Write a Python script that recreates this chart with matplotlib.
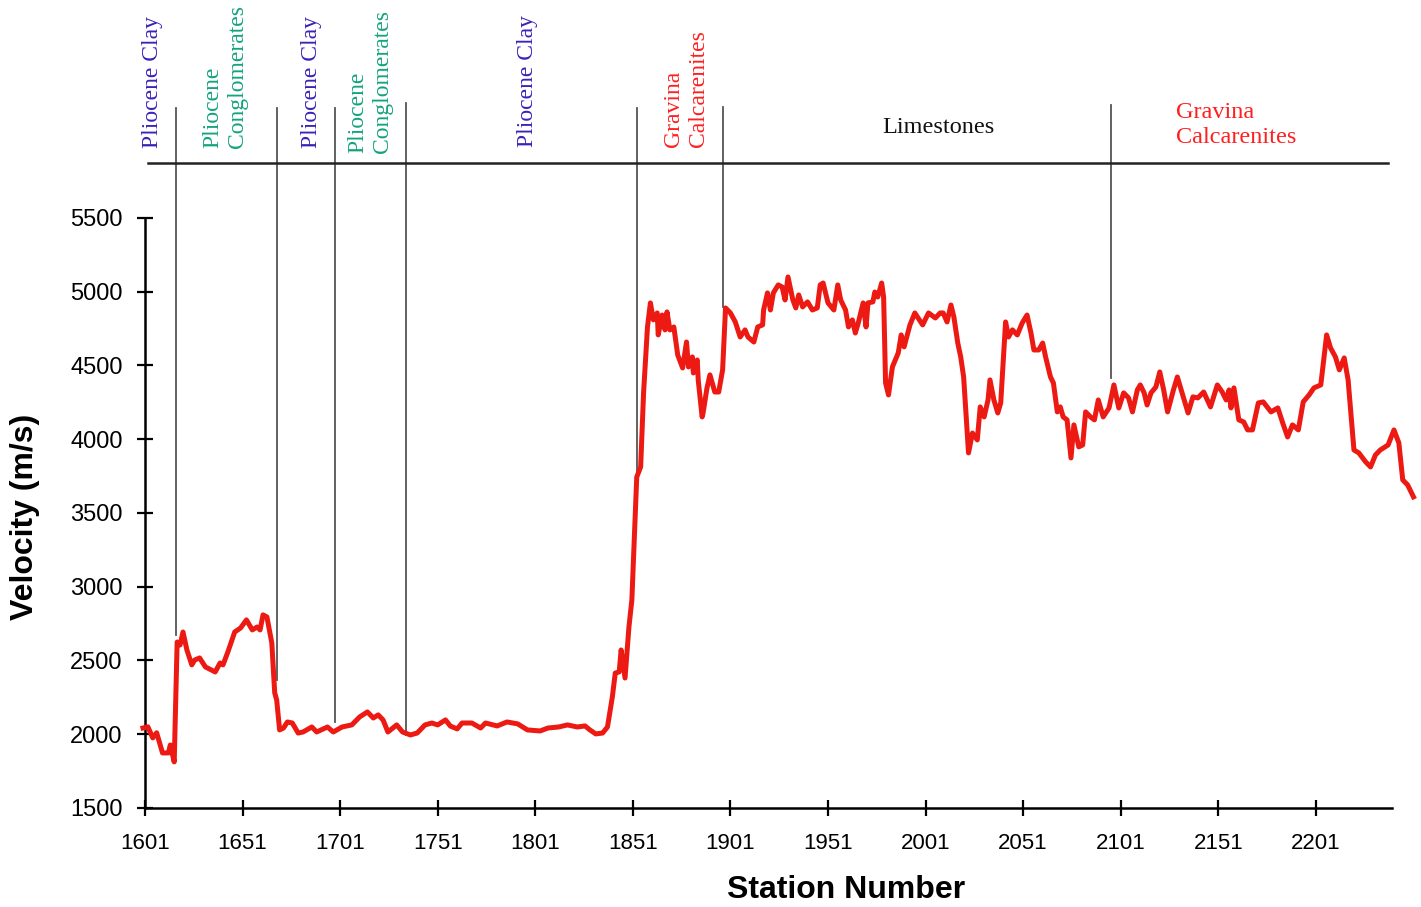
import matplotlib
matplotlib.use('Agg')
import matplotlib.pyplot as plt

# velocity profile
station = [1600, 1602.5, 1605, 1607, 1610, 1613, 1614, 1616, 1617.5, 1619, 1620.5, 1622.5,
           1625, 1626.5, 1629, 1632, 1637, 1639.5, 1641, 1643.5, 1647, 1650, 1653, 1656,
           1658.5, 1660, 1661.5, 1663.5, 1666, 1667.5, 1668.5, 1670, 1672, 1674, 1676.5,
           1679.5, 1682, 1686.5, 1689, 1694.5, 1697.5, 1702, 1707, 1711, 1715, 1718,
           1720.5, 1723, 1725.5, 1730, 1733, 1737, 1740.5, 1744.5, 1748, 1751, 1755,
           1757.5, 1761, 1763.5, 1768.5, 1773, 1775.5, 1781.5, 1786.5, 1792, 1797,
           1803.5, 1807.5, 1813, 1817.5, 1822.5, 1826.5, 1829, 1832, 1835.5, 1838,
           1840.5, 1842, 1844, 1845, 1847, 1849, 1850.5, 1852, 1853, 1855, 1856.5,
           1858.5, 1860, 1861.5, 1863.5, 1864, 1866, 1867.5, 1868.5, 1870, 1872, 1874,
           1876.5, 1878.5, 1879.5, 1881.5, 1882, 1884, 1884.5, 1886.5, 1887, 1889,
           1890.5, 1893, 1895, 1897, 1898.5, 1901, 1903.5, 1906, 1908.5, 1910, 1913,
           1915, 1917.5, 1918, 1920, 1921.5, 1923, 1925.5, 1927.5, 1929, 1930.5, 1933,
           1934.5, 1936, 1938, 1940.5, 1943, 1945.5, 1947, 1948.5, 1951, 1954, 1956,
           1957.5, 1960, 1961.5, 1963.5, 1965, 1966.5, 1969, 1970.5, 1971.5, 1974, 1975,
           1976.5, 1978.5, 1979.5, 1980.5, 1982, 1984, 1985.5, 1987, 1988.5, 1990, 1993,
           1995.5, 1999.5, 2002.5, 2006, 2008.5, 2010, 2012, 2014, 2015.5, 2017.5, 2019,
           2020.5, 2023, 2025, 2027.5, 2029, 2031, 2033, 2034, 2036, 2038, 2039.5, 2042,
           2043.5, 2045.5, 2048, 2050.5, 2053, 2055, 2056.5, 2059, 2061, 2062.5, 2065,
           2066.5, 2068.5, 2070, 2071.5, 2073.5, 2075.5, 2077, 2079.5, 2081.5, 2083,
           2085.5, 2087.5, 2089.5, 2092, 2095, 2097.5, 2100, 2102.5, 2105, 2107, 2109.5,
           2111, 2113, 2114.5, 2116.5, 2119, 2121, 2123, 2125, 2128, 2130, 2135.5, 2138,
           2140.5, 2143.5, 2147, 2150.5, 2153, 2155, 2156.5, 2157.5, 2159, 2161.5, 2164,
           2166, 2168.5, 2171.5, 2174, 2178, 2181.5, 2184, 2186.5, 2189, 2192, 2194.5,
           2197.5, 2200, 2203.5, 2206.5, 2208.5, 2211, 2213, 2215.5, 2217.5, 2220.5,
           2223, 2226.5, 2229, 2231.5, 2234, 2238, 2241, 2243.5, 2245.5, 2248, 2251]
velocity = [2042, 2050, 1975, 2010, 1873, 1873, 1927, 1812, 2625, 2605, 2693, 2571,
            2470, 2503, 2517, 2456, 2422, 2483, 2470, 2558, 2693, 2720, 2775, 2707,
            2727, 2707, 2809, 2795, 2619, 2280, 2232, 2029, 2042, 2083, 2076,
            2008, 2015, 2049, 2015, 2049, 2015, 2049, 2063, 2117, 2151, 2110,
            2131, 2097, 2015, 2063, 2015, 1995, 2008, 2063, 2076, 2063, 2097,
            2055, 2036, 2076, 2076, 2042, 2076, 2056, 2083, 2070, 2029,
            2022, 2042, 2049, 2063, 2049, 2056, 2029, 2002, 2008, 2049,
            2253, 2415, 2422, 2571, 2381, 2727, 2910, 3405, 3744, 3812, 4314,
            4761, 4924, 4809, 4856, 4707, 4842, 4741, 4863, 4741, 4761, 4571,
            4483, 4659, 4490, 4558, 4449, 4537, 4402, 4151, 4178, 4348,
            4436, 4320, 4320, 4470, 4890, 4856, 4795, 4693, 4741, 4693, 4659,
            4761, 4775, 4876, 4992, 4876, 4992, 5046, 5032, 4944, 5100, 4944,
            4890, 4978, 4897, 4931, 4876, 4890, 5046, 5059, 4924, 4876, 5046,
            4944, 4876, 4761, 4809, 4720, 4788, 4924, 4761, 4924, 4931, 4998,
            4964, 5059, 4964, 4381, 4300, 4490, 4537, 4585, 4707, 4626, 4775,
            4856, 4775, 4856, 4822, 4856, 4856, 4795, 4910, 4829, 4652, 4558,
            4422, 3907, 4042, 3995, 4219, 4151, 4266, 4402, 4266, 4178, 4246, 4795,
            4693, 4741, 4707, 4788, 4842, 4720, 4605, 4605, 4652, 4558, 4422,
            4381, 4185, 4219, 4151, 4131, 3873, 4097, 3948, 3961, 4185,
            4151, 4131, 4266, 4151, 4212, 4368, 4212, 4314, 4280, 4185, 4334,
            4368, 4314, 4232, 4314, 4354, 4456, 4334, 4185, 4334, 4422, 4178, 4287,
            4280, 4320, 4219, 4368, 4320, 4266, 4334, 4212, 4348, 4131, 4117,
            4063, 4063, 4246, 4253, 4185, 4212, 4110, 4015, 4097, 4063, 4253,
            4300, 4348, 4368, 4707, 4619, 4558, 4470, 4551, 4402, 3927,
            3907, 3846, 3812, 3893, 3927, 3961, 4063, 3975, 3724, 3690, 3609]

# formation boundaries: station, lower end of the marker line
bound_station = [1617, 1668.5, 1698.5, 1735, 1853, 1897, 2096]
bound_bottom = [2673, 2368, 2083, 1995, 3636, 4897, 4415]
bound_top = [6246, 6246, 6246, 6280, 6246, 6253, 6266]

# vertical formation labels
vlabels = ['Pliocene Clay', 'Pliocene\nConglomerates', 'Pliocene Clay',
           'Pliocene\nConglomerates', 'Pliocene Clay', 'Gravina\nCalcarenites']
vlabel_x = [1605, 1642, 1686.5, 1716.5, 1797, 1878]
vlabel_y = [5975, 5975, 5975, 5941, 5982, 5982]
vlabel_col = ['#3a22b8', '#13a37e', '#3a22b8', '#13a37e', '#3a22b8', '#ff1f1f']

xticks = [1601, 1651, 1701, 1751, 1801, 1851, 1901, 1951, 2001, 2051, 2101, 2151, 2201]
yticks = [1500, 2000, 2500, 3000, 3500, 4000, 4500, 5000, 5500]

plt.rcParams['font.family'] = 'Liberation Sans'

fig = plt.figure(figsize=(14.21, 9.07), dpi=100)
ax = fig.add_axes([0.1020, 0.1092, 0.8776, 0.6505])

ax.plot(station, velocity, color='#ec1a12', lw=3.6, clip_on=False, zorder=3,
        solid_joinstyle='round')

for s, b, t in zip(bound_station, bound_bottom, bound_top):
    ax.plot([s, s], [b, t], color='#555555', lw=1.3, clip_on=False, zorder=2)

# header line
ax.plot([1602.5, 2238], [5873, 5873], color='#222222', lw=1.8, clip_on=False)

for lab, x, y, c in zip(vlabels, vlabel_x, vlabel_y, vlabel_col):
    ax.text(x, y, lab, rotation=90, rotation_mode='anchor', ha='left', va='center',
            multialignment='left', color=c, family='Liberation Serif', fontsize=17,
            linespacing=1.25, clip_on=False)

ax.text(2007.5, 6110, 'Limestones', ha='center', va='center', color='#111111',
        family='Liberation Serif', fontsize=17.5)
ax.text(2129.5, 6127, 'Gravina\nCalcarenites', ha='left', va='center', color='#ff1f1f',
        family='Liberation Serif', fontsize=17.5, linespacing=1.25)

ax.set_xlim(1601, 2240)
ax.set_ylim(1500, 5500)
ax.set_xticks(xticks)
ax.set_yticks(yticks)
ax.tick_params(direction='inout', length=12, width=1.6)
ax.tick_params(axis='x', pad=12, labelsize=16)
ax.tick_params(axis='y', pad=10, labelsize=17)
ax.spines['top'].set_visible(False)
ax.spines['right'].set_visible(False)
ax.spines['left'].set_linewidth(1.8)
ax.spines['bottom'].set_linewidth(1.8)

ax.text(-0.096, 0.493, 'Velocity (m/s)', transform=ax.transAxes, rotation=90,
        ha='center', va='center', fontsize=23, fontweight='bold')
ax.text(0.562, -0.139, 'Station Number', transform=ax.transAxes,
        ha='center', va='center', fontsize=23, fontweight='bold')

fig.savefig('out.png', dpi=100)
